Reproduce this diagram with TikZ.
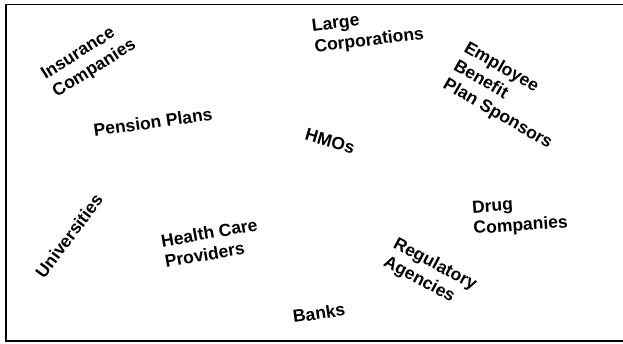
\documentclass[tikz,border=0pt]{standalone}
\usepackage{fontspec}
\setmainfont{Liberation Sans}
\usepackage{tikz}

\begin{document}
\begin{tikzpicture}[
  x=1pt, y=-1pt,
  actor/.style={font=\bfseries\fontsize{17.5}{21}\selectfont, align=left, inner sep=0pt}
]
  \useasboundingbox (0,0) rectangle (623,344);

  % frame
  \draw[line width=1.4pt] (6,341) -- (6,4.5) -- (623,4.5);
  \draw[line width=2.6pt] (5,341) -- (623,341);

  % upper row
  \node[actor, rotate=32] (ins) at (89,60) {Insurance\\Companies};
  \node[actor, rotate=7] (corp) at (368,31) {Large\\Corporations};
  \node[actor, rotate=-30] (ebps) at (508,96) {Employee\\Benefit\\Plan Sponsors};
  \node[actor, rotate=8] (pens) at (153,122) {Pension Plans};
  \node[actor, rotate=-16] (hmo) at (330,141) {HMOs};

  % lower row
  \node[actor, rotate=53] (univ) at (69,236) {Universities};
  \node[actor, rotate=10] (hcp) at (211,243) {Health Care\\Providers};
  \node[actor, rotate=4] (drug) at (520,216) {Drug\\Companies};
  \node[actor, rotate=-28] (reg) at (430,274) {Regulatory\\Agencies};
  \node[actor, rotate=8] (bank) at (319,313) {Banks};

\end{tikzpicture}
\end{document}
